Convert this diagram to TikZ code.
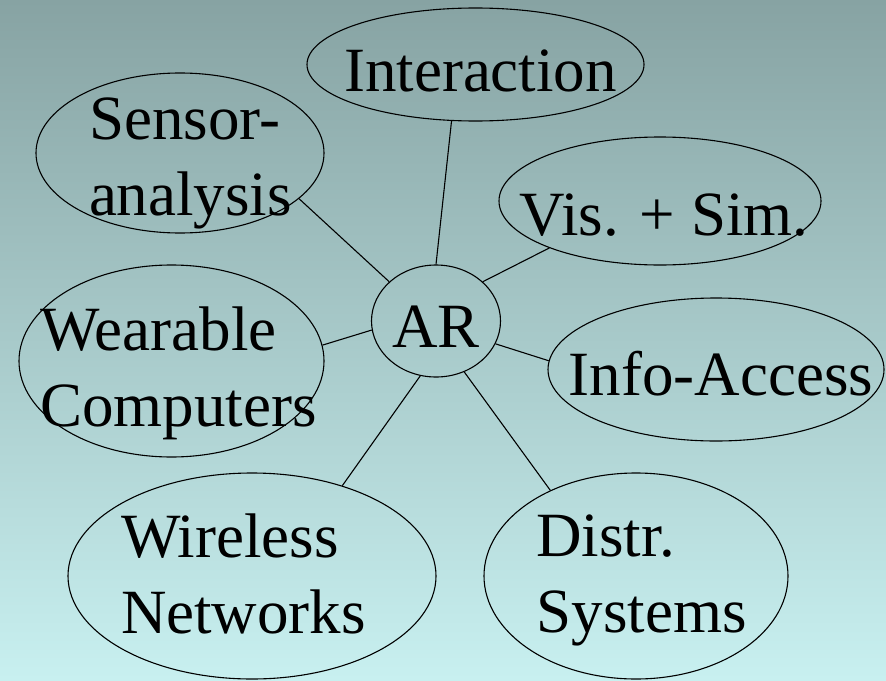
\documentclass[tikz,border=0pt]{standalone}
\usepackage{fontspec}
\setmainfont{Liberation Serif}
\usetikzlibrary{shapes.geometric}
\definecolor{bgtop}{RGB}{135,163,163}
\definecolor{bgbottom}{RGB}{200,240,240}

\begin{document}
\begin{tikzpicture}[
                          x=1pt, y=-1pt,
                          font=\fontsize{63}{76}\selectfont,
                          bubble/.style={ellipse, draw, line width=1.1pt, inner sep=0pt},
                          link/.style={line width=1.1pt},
                      ]
                      \useasboundingbox (0,0) rectangle (886,680);
                      \shade[top color=bgtop, bottom color=bgbottom] (0,0) rectangle (886,680);

                      %Nodes
                      \node[bubble, minimum width=129pt, minimum height=112pt, label={[shift={(0,6)}]center:AR}]                               (ar)     at (436,321)     {};
                      \node[bubble, minimum width=337pt, minimum height=113pt, label={[shift={(5,6)}]center:Interaction}]                      (inter)  at (475.5,64.5)  {};
                      \node[bubble, minimum width=288pt, minimum height=160pt, label={[align=left, shift={(10.5,10.5)}]center:Sensor-\\analysis}] (sensor) at (180,153)     {};
                      \node[bubble, minimum width=322pt, minimum height=128pt, label={[shift={(4,14)}]center:Vis. + Sim.}]                     (vis)    at (660,201)     {};
                      \node[bubble, minimum width=305pt, minimum height=192pt, label={[align=left, shift={(7,12)}]center:Wearable\\Computers}]  (wear)   at (171.5,361)   {};
                      \node[bubble, minimum width=336pt, minimum height=143pt, label={[shift={(5,4)}]center:Info-Access}]                      (info)   at (716,369.5)   {};
                      \node[bubble, minimum width=368pt, minimum height=206pt, label={[align=left, shift={(-8.5,-2.5)}]center:Wireless\\Networks}] (wire) at (252,576)     {};
                      \node[bubble, minimum width=304pt, minimum height=206pt, label={[align=left, shift={(5.5,4)}]center:Distr.\\Systems}]     (distr)  at (636,576)     {};

                      %Lines
                      \draw[link] (ar.90)   -- (inter.-113);
                      \draw[link] (ar.140)  -- (sensor.-21);
                      \draw[link] (ar.40)   -- (vis.-157);
                      \draw[link] (ar.188)  -- (wear.6);
                      \draw[link] (ar.-21)  -- (info.177);
                      \draw[link] (ar.-106) -- (wire.45);
                      \draw[link] (ar.-61)  -- (distr.135);
                  \end{tikzpicture}
\end{document}
